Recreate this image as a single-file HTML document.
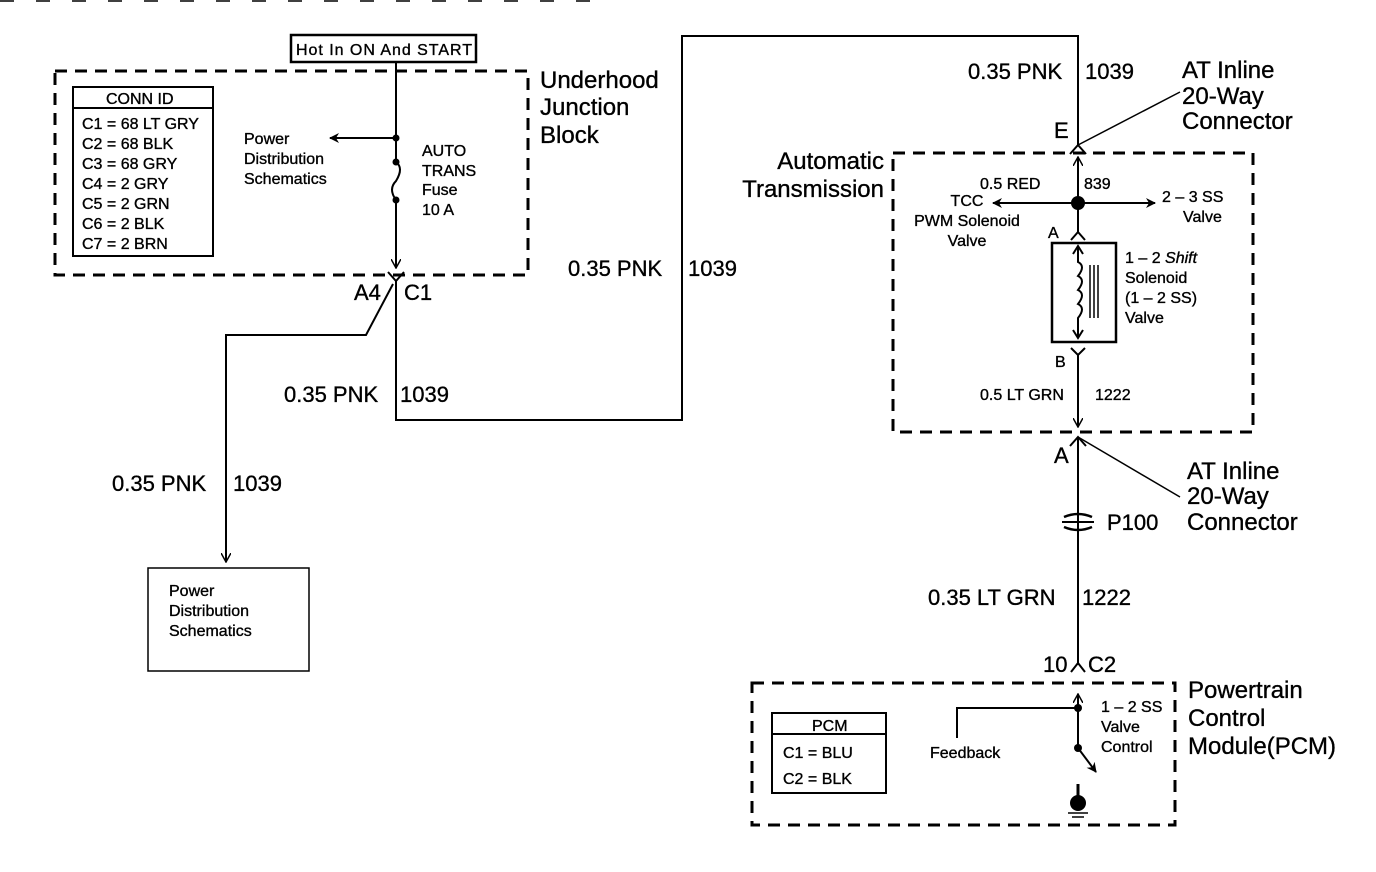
<!DOCTYPE html>
<html><head><meta charset="utf-8"><style>
html,body{margin:0;padding:0;background:#fff}
svg{display:block}
text{font-family:"Liberation Sans",Arial,sans-serif;fill:#000;stroke:#000;stroke-width:0.35}
.s{font-size:16px}.m{font-size:22px}.l{font-size:24px}
</style></head><body>
<svg width="1376" height="872" viewBox="0 0 1376 872" xmlns="http://www.w3.org/2000/svg">
<defs><marker id="a" markerWidth="10" markerHeight="10" refX="9" refY="5" orient="auto" markerUnits="userSpaceOnUse"><path d="M0,0 L10,5 L0,10 L3,5 z" fill="#000"/></marker>
<marker id="o" markerWidth="10" markerHeight="10" refX="9" refY="5" orient="auto" markerUnits="userSpaceOnUse"><path d="M0,0 L9,5 L0,10" fill="none" stroke="#000" stroke-width="1.5"/></marker></defs>
<g fill="none" stroke="#000">
<line x1="0" y1="1" x2="600" y2="1" stroke-width="1.5" stroke-dasharray="14,22"/>
<rect x="291" y="35" width="185" height="27" stroke-width="2.5"/>
<rect x="55" y="71" width="473" height="204" stroke-width="3" stroke-dasharray="12,8"/>
<rect x="73" y="87" width="140" height="169" stroke-width="2"/>
<line x1="73" y1="108" x2="213" y2="108" stroke-width="2"/>
<line x1="396" y1="62" x2="396" y2="162" stroke-width="2"/>
<path d="M396,162 q8,6 0,19 q-8,8 0,19" stroke-width="2"/>
<line x1="396" y1="200" x2="396" y2="268" stroke-width="2" marker-end="url(#o)"/>
<line x1="396" y1="138" x2="330" y2="138" stroke-width="2" marker-end="url(#a)"/>
<path d="M388,272 L396,281 L404,272" stroke-width="2"/>
<path d="M396,281 L396,420 L682,420 L682,36 L1078,36 L1078,145" stroke-width="2"/>
<path d="M393,284 L366,335 L226,335 L226,562" stroke-width="2" marker-end="url(#o)"/>
<rect x="148" y="568" width="161" height="103" stroke-width="1.5"/>
<path d="M1070,154 L1078,145 L1086,154" stroke-width="2"/>
<line x1="1078" y1="145" x2="1180" y2="92" stroke-width="1.5"/>
<rect x="893" y="153" width="360" height="279" stroke-width="3" stroke-dasharray="12,8"/>
<line x1="1078" y1="232" x2="1078" y2="157" stroke-width="2" marker-end="url(#o)"/>
<line x1="1078" y1="203" x2="993" y2="203" stroke-width="2" marker-end="url(#a)"/>
<line x1="1078" y1="203" x2="1155" y2="203" stroke-width="2" marker-end="url(#a)"/>
<path d="M1071,240 L1078,232 L1085,240" stroke-width="2"/>
<rect x="1052" y="243" width="64" height="99" stroke-width="2.5"/>
<path d="M1078,247 L1078,262 q8,4 0,14 q8,4 0,14 q8,4 0,14 q8,4 0,14 L1078,338" stroke-width="2"/>
<path d="M1073,254 L1078,246 L1083,254 M1073,330 L1078,338 L1083,330" stroke-width="2"/>
<line x1="1090" y1="265" x2="1090" y2="318" stroke-width="1.5"/><line x1="1094" y1="265" x2="1094" y2="318" stroke-width="1.5"/><line x1="1098" y1="265" x2="1098" y2="318" stroke-width="1.5"/>
<path d="M1071,348 L1078,355 L1085,348" stroke-width="2"/>
<line x1="1078" y1="355" x2="1078" y2="427" stroke-width="2" marker-end="url(#o)"/>
<path d="M1070,446 L1078,437 L1086,446" stroke-width="2"/>
<line x1="1078" y1="437" x2="1180" y2="497" stroke-width="1.5"/>
<line x1="1078" y1="437" x2="1078" y2="665" stroke-width="2"/>
<path d="M1064,517 q14,-6 28,0 M1064,527 q14,6 28,0" stroke-width="2.5"/>
<line x1="1062" y1="522" x2="1094" y2="522" stroke-width="2"/>
<path d="M1071,672 L1078,663 L1085,672" stroke-width="2"/>
<rect x="752" y="683" width="423" height="142" stroke-width="3" stroke-dasharray="12,8"/>
<rect x="772" y="713" width="114" height="80" stroke-width="2"/>
<line x1="772" y1="734" x2="886" y2="734" stroke-width="2"/>
<line x1="1078" y1="748" x2="1078" y2="694" stroke-width="2" marker-end="url(#o)"/>
<path d="M957,738 L957,708 L1078,708" stroke-width="2"/>
<line x1="1078" y1="748" x2="1096" y2="772" stroke-width="2" marker-end="url(#a)"/>
<line x1="1078" y1="784" x2="1078" y2="800" stroke-width="3"/>
<line x1="1068" y1="813" x2="1088" y2="813" stroke-width="1.5"/><line x1="1072" y1="817" x2="1084" y2="817" stroke-width="1.5"/>
</g>
<g fill="#000">
<circle cx="396" cy="138" r="3.5"/><circle cx="396" cy="162" r="3.5"/><circle cx="396" cy="200" r="3.5"/>
<circle cx="1078" cy="203" r="7"/><circle cx="1078" cy="708" r="4"/><circle cx="1078" cy="748" r="4"/>
<circle cx="1078" cy="803" r="8"/>
</g>
<text class="s" x="296" y="55" textLength="176">Hot In ON And START</text>
<text class="s" x="106" y="104">CONN ID</text>
<text class="s" x="82" y="129">C1 = 68 LT GRY</text><text class="s" x="82" y="149">C2 = 68 BLK</text><text class="s" x="82" y="169">C3 = 68 GRY</text><text class="s" x="82" y="189">C4 = 2 GRY</text><text class="s" x="82" y="209">C5 = 2 GRN</text><text class="s" x="82" y="229">C6 = 2 BLK</text><text class="s" x="82" y="249">C7 = 2 BRN</text>
<text class="s" x="244" y="144">Power</text><text class="s" x="244" y="164">Distribution</text><text class="s" x="244" y="184">Schematics</text>
<text class="s" x="422" y="156">AUTO</text><text class="s" x="422" y="176">TRANS</text><text class="s" x="422" y="195">Fuse</text><text class="s" x="422" y="215">10 A</text>
<text class="l" x="540" y="88">Underhood</text><text class="l" x="540" y="115">Junction</text><text class="l" x="540" y="143">Block</text>
<text class="m" x="354" y="300">A4</text><text class="m" x="404" y="300">C1</text>
<text class="m" x="568" y="276">0.35 PNK</text><text class="m" x="688" y="276">1039</text>
<text class="m" x="284" y="402">0.35 PNK</text><text class="m" x="400" y="402">1039</text>
<text class="m" x="112" y="491">0.35 PNK</text><text class="m" x="233" y="491">1039</text>
<text class="s" x="169" y="596">Power</text><text class="s" x="169" y="616">Distribution</text><text class="s" x="169" y="636">Schematics</text>
<text class="m" x="968" y="79">0.35 PNK</text><text class="m" x="1085" y="79">1039</text>
<text class="l" x="1182" y="78">AT Inline</text><text class="l" x="1182" y="104">20-Way</text><text class="l" x="1182" y="129">Connector</text>
<text class="m" x="1054" y="138">E</text>
<text class="l" x="884" y="169" text-anchor="end">Automatic</text><text class="l" x="884" y="197" text-anchor="end">Transmission</text>
<text class="s" x="980" y="189">0.5 RED</text><text class="s" x="1084" y="189">839</text>
<text class="s" x="967" y="206" text-anchor="middle">TCC</text><text class="s" x="967" y="226" text-anchor="middle">PWM Solenoid</text><text class="s" x="967" y="246" text-anchor="middle">Valve</text>
<text class="s" x="1162" y="202">2 – 3 SS</text><text class="s" x="1183" y="222">Valve</text>
<text class="s" x="1048" y="238">A</text>
<text class="s" x="1125" y="263">1 – 2 <tspan font-style="italic">Shift</tspan></text><text class="s" x="1125" y="283">Solenoid</text><text class="s" x="1125" y="303">(1 – 2 SS)</text><text class="s" x="1125" y="323">Valve</text>
<text class="s" x="1055" y="367">B</text>
<text class="s" x="980" y="400">0.5 LT GRN</text><text class="s" x="1095" y="400">1222</text>
<text class="m" x="1054" y="463">A</text>
<text class="l" x="1187" y="479">AT Inline</text><text class="l" x="1187" y="504">20-Way</text><text class="l" x="1187" y="530">Connector</text>
<text class="m" x="1107" y="530">P100</text>
<text class="m" x="928" y="605">0.35 LT GRN</text><text class="m" x="1082" y="605">1222</text>
<text class="m" x="1043" y="672">10</text><text class="m" x="1088" y="672">C2</text>
<text class="l" x="1188" y="698">Powertrain</text><text class="l" x="1188" y="726">Control</text><text class="l" x="1188" y="754">Module(PCM)</text>
<text class="s" x="812" y="731">PCM</text>
<text class="s" x="783" y="758">C1 = BLU</text><text class="s" x="783" y="784">C2 = BLK</text>
<text class="s" x="930" y="758">Feedback</text>
<text class="s" x="1101" y="712">1 – 2 SS</text><text class="s" x="1101" y="732">Valve</text><text class="s" x="1101" y="752">Control</text>
</svg>
</body></html>
